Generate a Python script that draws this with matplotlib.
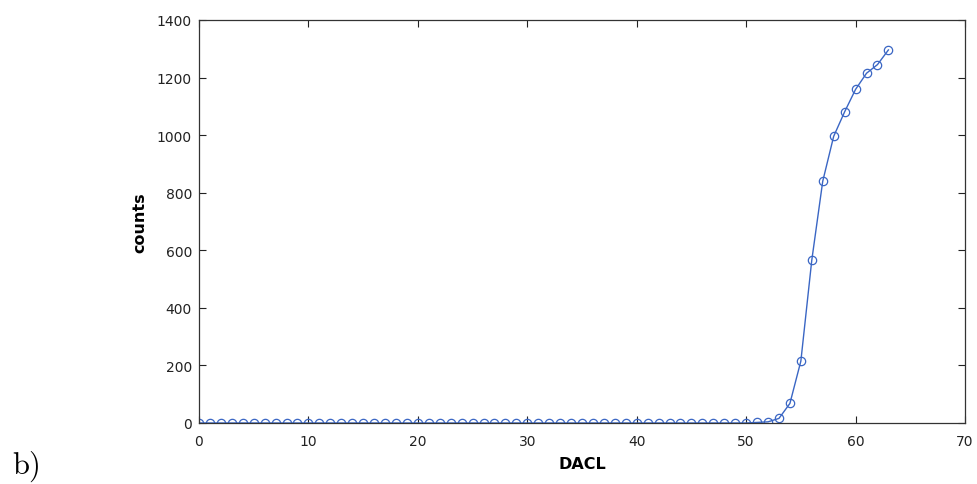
import matplotlib
matplotlib.use("Agg")
import matplotlib.pyplot as plt
import numpy as np

dacl = list(range(0, 64))
counts = [0] * 51 + [2, 4, 16, 68, 215, 566, 840, 996, 1081, 1159, 1215, 1245, 1296]

xticks = [0, 10, 20, 30, 40, 50, 60, 70]
yticks = [0, 200, 400, 600, 800, 1000, 1200, 1400]

plt.rcParams['mathtext.fontset'] = 'cm'
fig = plt.figure(figsize=(9.78, 4.85), dpi=100)
ax = fig.add_axes([199/978, 1 - 424/485, (965-199)/978, (424-21)/485])

color = '#3a66c4'
ax.plot(dacl, counts, '-', color=color, lw=1.0, marker='o', markersize=6,
        markerfacecolor='none', markeredgecolor=color, markeredgewidth=0.9)

ax.set_xlim(0, 70)
ax.set_ylim(0, 1400)
ax.set_xticks(xticks)
ax.set_yticks(yticks)
ax.tick_params(direction='in', length=5, width=0.8, top=True, right=True,
               labelsize=10, colors='#222222')
ax.tick_params(axis='x', pad=8)
ax.tick_params(axis='y', pad=5)
for s in ax.spines.values():
    s.set_color('#333333')
    s.set_linewidth(0.9)
ax.set_xlabel('DACL', fontsize=11.5, fontweight='bold', labelpad=6)
ax.set_ylabel('counts', fontsize=11.5, fontweight='bold', labelpad=7)

fig.text(12/978, 1 - 474/485, r'$\mathrm{b)}$', fontsize=22, va='baseline', ha='left')

fig.savefig('out.png', dpi=100)
